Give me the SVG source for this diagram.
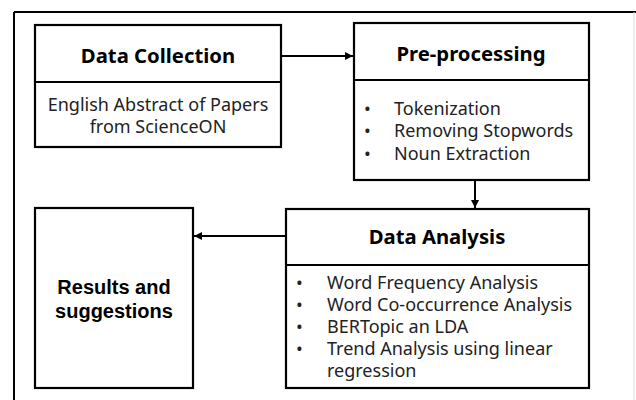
<svg xmlns="http://www.w3.org/2000/svg" width="636" height="400" viewBox="0 0 636 400">
<defs>
<style>
.box{fill:#fff;stroke:#000;stroke-width:2.2}
.title{font-family:"Noto Sans","Open Sans",sans-serif;font-weight:bold;font-size:20.3px;fill:#000;text-anchor:middle}
.title2{font-family:"Liberation Sans",Arial,sans-serif;font-weight:bold;font-size:20px;fill:#000;text-anchor:middle}
.body{font-family:"Noto Sans","Open Sans",sans-serif;font-size:18px;fill:#222}
.mid{text-anchor:middle}
.edge{fill:none;stroke:#000;stroke-width:2}
</style>
<marker id="ah" viewBox="0 0 10 10" refX="10" refY="5" markerWidth="4" markerHeight="4" orient="auto" markerUnits="strokeWidth">
<path d="M0,0 L10,5 L0,10 z" fill="#000"/>
</marker>
</defs>
<rect width="636" height="400" fill="#fff"/>
<g id="frame">
<line x1="14" y1="12" x2="636" y2="12" stroke="#000" stroke-width="2"/>
<line x1="14" y1="12" x2="14" y2="400" stroke="#000" stroke-width="2"/>
<line x1="634" y1="12" x2="634" y2="400" stroke="#ddd" stroke-width="1"/>
</g>
<g id="data-collection">
<rect class="box" x="35" y="25" width="246" height="122"/>
<line x1="35" y1="82" x2="281" y2="82" stroke="#000" stroke-width="2.2"/>
<text class="title" x="158" y="63">Data Collection</text>
<text class="body mid" x="158" y="111">English Abstract of Papers</text>
<text class="body mid" x="158" y="133">from ScienceON</text>
</g>
<g id="pre-processing">
<rect class="box" x="354" y="23" width="235" height="157"/>
<line x1="354" y1="80" x2="589" y2="80" stroke="#000" stroke-width="2.2"/>
<text class="title" x="471" y="61">Pre-processing</text>
<text class="body" x="364" y="115">•</text>
<text class="body" x="394" y="115">Tokenization</text>
<text class="body" x="364" y="137">•</text>
<text class="body" x="394" y="137">Removing Stopwords</text>
<text class="body" x="364" y="160">•</text>
<text class="body" x="394" y="160">Noun Extraction</text>
</g>
<g id="data-analysis">
<rect class="box" x="286" y="209" width="303" height="179"/>
<line x1="286" y1="265" x2="589" y2="265" stroke="#000" stroke-width="2.2"/>
<text class="title" x="437" y="244">Data Analysis</text>
<text class="body" x="296" y="289">•</text>
<text class="body" x="327" y="289">Word Frequency Analysis</text>
<text class="body" x="296" y="311">•</text>
<text class="body" x="327" y="311">Word Co-occurrence Analysis</text>
<text class="body" x="296" y="333">•</text>
<text class="body" x="327" y="333">BERTopic an LDA</text>
<text class="body" x="296" y="355">•</text>
<text class="body" x="327" y="355">Trend Analysis using linear</text>
<text class="body" x="327" y="377">regression</text>
</g>
<g id="results">
<rect class="box" x="35" y="208" width="158" height="180"/>
<text class="title2" x="114" y="294">Results and</text>
<text class="title2" x="114" y="318">suggestions</text>
</g>
<g id="connectors">
<line class="edge" x1="281" y1="56" x2="353" y2="56" marker-end="url(#ah)"/>
<line class="edge" x1="475" y1="180" x2="475" y2="208" marker-end="url(#ah)"/>
<line class="edge" x1="286" y1="236" x2="194" y2="236" marker-end="url(#ah)"/>
</g>
</svg>
